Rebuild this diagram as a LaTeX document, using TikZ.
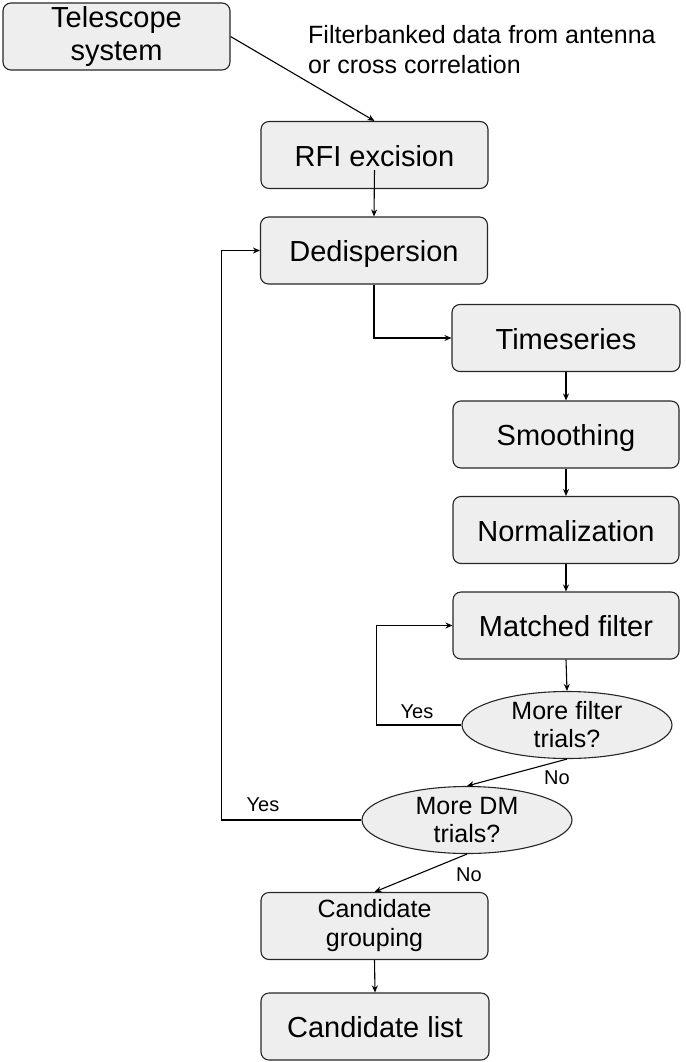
\documentclass[tikz,border=0pt]{standalone}
\usepackage{fontspec}
\setmainfont{Liberation Sans}
\usetikzlibrary{shapes.geometric,arrows.meta}
\definecolor{boxfill}{HTML}{EEEEEE}
\definecolor{boxline}{HTML}{262626}
\begin{document}
\begin{tikzpicture}[x=1pt,y=-1pt,
  procbox/.style={draw=boxline,fill=boxfill,line width=1.1pt,rounded corners=8pt,
    minimum width=#1,minimum height=67pt,inner sep=0pt,align=center,
    font=\fontsize{29}{33}\selectfont},
  procbox/.default=227pt,
  oneline/.style={text height=22.5pt,text depth=0pt},
  decide/.style={ellipse,draw=boxline,fill=boxfill,line width=1.1pt,
    minimum width=210pt,minimum height=67pt,inner sep=0pt,align=center,
    font=\fontsize{25}{28}\selectfont},
  conn/.style={line width=1.1pt,draw=black,-{Stealth[length=7pt,width=6pt]}},
  small/.style={font=\fontsize{20}{24}\selectfont,inner sep=0pt}
]
\useasboundingbox (0,0) rectangle (685,1062);

\node[procbox] (tele) at (116.5,36.5) {Telescope\\system};
\node[anchor=north west,inner sep=0pt,align=left,font=\fontsize{25}{30}\selectfont] (note) at (308,25) {Filterbanked data from antenna\\or cross correlation};
\node[procbox,oneline] (rfi) at (374.5,155) {RFI excision};
\node[procbox,oneline] (dedisp) at (374,250.5) {Dedispersion};
\node[procbox=228pt,oneline] (times) at (566,338) {Timeseries};
\node[procbox=226pt,oneline] (smooth) at (566,434.5) {Smoothing};
\node[procbox=226pt,oneline] (norm) at (566,530) {Normalization};
\node[procbox=226pt,oneline] (matched) at (566,625.5) {Matched filter};
\node[decide] (filt) at (567,725) {More filter\\trials?};
\node[decide] (dm) at (467,820) {More DM\\trials?};
\node[procbox,font=\fontsize{25}{29}\selectfont] (group) at (374.5,926) {Candidate\\grouping};
\node[procbox=228pt,oneline] (list) at (375,1026.5) {Candidate list};

\draw[conn] (tele.east) -- (rfi.north);
\draw[conn] ([yshift=-15pt]rfi.center) -- (dedisp.north);
\draw[conn] (dedisp.south) |- (times.west);
\draw[conn] (times.south) -- (smooth.north);
\draw[conn] (smooth.south) -- (norm.north);
\draw[conn] (norm.south) -- (matched.north);
\draw[conn] (matched.south) -- (filt.north);
\draw[conn] (filt.west) -- ++(-85,0) |- (matched.west);
\node[small] (yes1) at (417,712) {Yes};
\draw[conn] (filt.south) -- (dm.north);
\node[small] (no1) at (557,778) {No};
\draw[conn] (dm.west) -- ++(-140,0) |- (dedisp.west);
\node[small] (yes2) at (263,805) {Yes};
\draw[conn] (dm.south) -- (group.north);
\node[small] (no2) at (469,875) {No};
\draw[conn] (group.south) -- (list.north);
\end{tikzpicture}
\end{document}
